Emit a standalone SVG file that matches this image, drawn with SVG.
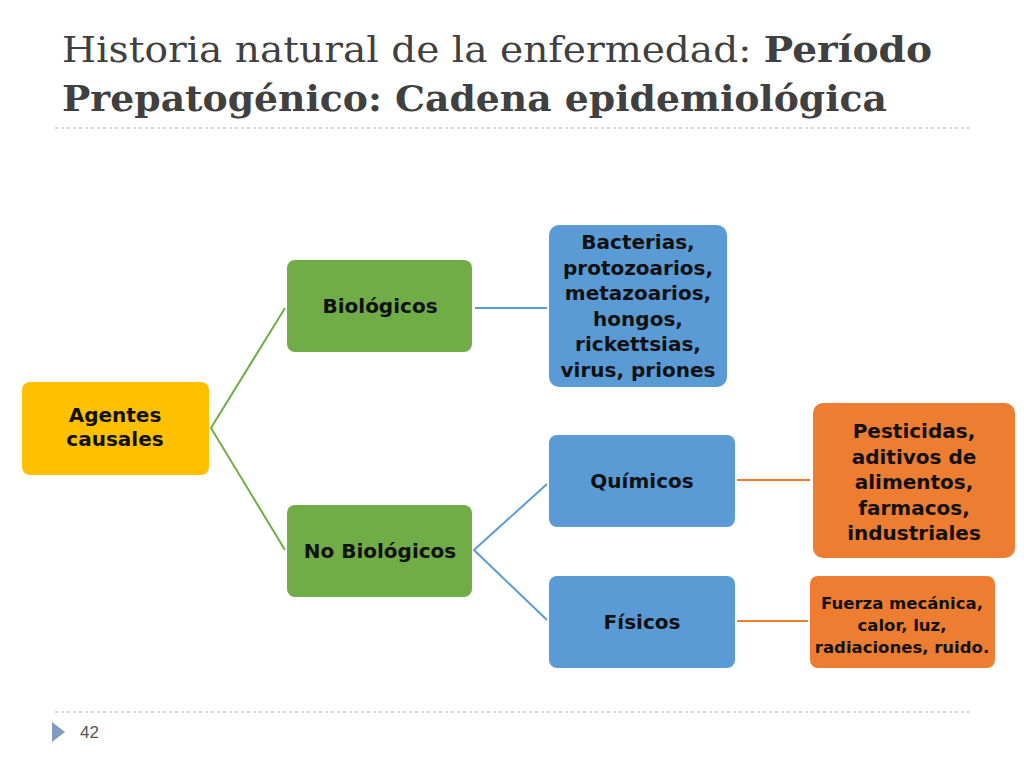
<svg xmlns="http://www.w3.org/2000/svg" width="1024" height="768" viewBox="0 0 1024 768">
<style>
.t{font-family:"DejaVu Serif",serif;font-size:35px;fill:#404040}
.n{font-family:"DejaVu Sans",sans-serif;font-weight:bold;font-size:20px;fill:#111;text-anchor:middle}
.d{stroke:#9bb8d3;stroke-width:1.2;stroke-dasharray:3,3}
</style>
<rect width="1024" height="768" fill="#fff"/>
<text class="t" x="62" y="62" textLength="870" lengthAdjust="spacingAndGlyphs">Historia natural de la enfermedad: <tspan font-weight="bold">Período</tspan></text>
<text class="t" x="62" y="111" font-weight="bold" textLength="825" lengthAdjust="spacingAndGlyphs">Prepatogénico: Cadena epidemiológica</text>
<line class="d" x1="55" y1="128" x2="972" y2="128"/>
<line class="d" x1="55" y1="712" x2="972" y2="712"/>
<polygon points="52,722 65,732 52,742" fill="#7f9cc0"/>
<text x="80" y="738" font-family="Liberation Sans,sans-serif" font-size="17" fill="#555">42</text>
<g id="connectors" fill="none" stroke-width="2">
<polyline points="285,308 211,428 285,550" stroke="#70ad47"/>
<line x1="475" y1="308" x2="547" y2="308" stroke="#5b9bd5"/>
<polyline points="547,484 474,550 547,620" stroke="#5b9bd5"/>
<line x1="737" y1="480" x2="810" y2="480" stroke="#ed7d31"/>
<line x1="737" y1="621" x2="808" y2="621" stroke="#ed7d31"/>
</g>
<g id="agentes"><rect x="22" y="382" width="187" height="93" rx="8" fill="#ffc000"/><text class="n" x="115" y="422">Agentes<tspan x="115" dy="24">causales</tspan></text></g>
<g id="bio"><rect x="287" y="260" width="185" height="92" rx="8" fill="#70ad47"/><text class="n" x="380" y="313">Biológicos</text></g>
<g id="nobio"><rect x="287" y="505" width="185" height="92" rx="8" fill="#70ad47"/><text class="n" x="380" y="558">No Biológicos</text></g>
<g id="bacterias"><rect x="549" y="225" width="178" height="162" rx="10" fill="#5b9bd5"/><text class="n" x="638" y="249">Bacterias,<tspan x="638" dy="25.5">protozoarios,</tspan><tspan x="638" dy="25.5">metazoarios,</tspan><tspan x="638" dy="25.5">hongos,</tspan><tspan x="638" dy="25.5">rickettsias,</tspan><tspan x="638" dy="25.5">virus, priones</tspan></text></g>
<g id="quimicos"><rect x="549" y="435" width="186" height="92" rx="8" fill="#5b9bd5"/><text class="n" x="642" y="488">Químicos</text></g>
<g id="fisicos"><rect x="549" y="576" width="186" height="92" rx="8" fill="#5b9bd5"/><text class="n" x="642" y="629">Físicos</text></g>
<g id="pesticidas"><rect x="813" y="403" width="202" height="155" rx="10" fill="#ed7d31"/><text class="n" x="914" y="438">Pesticidas,<tspan x="914" dy="25.5">aditivos de</tspan><tspan x="914" dy="25.5">alimentos,</tspan><tspan x="914" dy="25.5">farmacos,</tspan><tspan x="914" dy="25.5">industriales</tspan></text></g>
<g id="fuerza"><rect x="810" y="576" width="185" height="92" rx="8" fill="#ed7d31"/><text class="n" x="902" y="609" style="font-size:16.5px">Fuerza mecánica,<tspan x="902" dy="22">calor, luz,</tspan><tspan x="902" dy="22">radiaciones, ruido.</tspan></text></g>
</svg>
